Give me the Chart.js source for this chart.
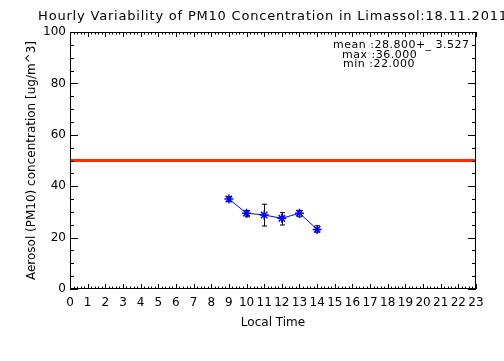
<!DOCTYPE html>
<html>
<head>
<meta charset="utf-8">
<script src="https://cdn.jsdelivr.net/npm/chart.js@4/dist/chart.umd.min.js"></script>
<style>
  html, body { margin: 0; padding: 0; background: #fff; }
  #wrap { width: 504px; height: 361px; }
</style>
</head>
<body>
<div id="wrap"><canvas id="pm10" width="504" height="361"></canvas></div>
<script>
// --- data ---
const hours = [9, 10, 11, 12, 13, 14];
const pm10 = [35.0, 29.5, 28.8, 27.5, 29.5, 23.2];
const errLow = [34.0, 28.1, 24.5, 24.9, 28.1, 22.1];
const errHigh = [35.9, 30.5, 33.0, 29.7, 30.5, 24.6];

const limitHours = [0, 23];
const limitValue = [50, 50];

const xTicks = [0, 23, 1];     // min, max, step
const yTicks = [0, 100, 20];

const titleText = 'Hourly Variability of PM10 Concentration in Limassol:18.11.2011';
const statsLines = ['mean :28.800+_ 3.527', 'max :36.000', 'min :22.000'];

const FONT = 'DejaVu Sans';

// draws the IDL-style frame with inward ticks + minor ticks
const frameTicks = {
    id: 'frameTicks',
    afterDatasetsDraw(chart) {
        const { ctx, chartArea: a, scales: { x, y } } = chart;
        ctx.save();
        ctx.strokeStyle = '#000';
        ctx.lineWidth = 1;
        ctx.strokeRect(a.left + 0.5, a.top + 0.5, a.right - a.left - 1, a.bottom - a.top - 1);
        ctx.beginPath();
        // x: minor every 0.2 h
        for (let i = 0; i <= (xTicks[1] - xTicks[0]) * 5; i++) {
            const v = xTicks[0] + i * 0.2;
            const px = Math.round(x.getPixelForValue(v)) + 0.5;
            const len = i % 5 === 0 ? 5 : 2.5;
            ctx.moveTo(px, a.bottom); ctx.lineTo(px, a.bottom - len);
            ctx.moveTo(px, a.top); ctx.lineTo(px, a.top + len);
        }
        // y: minor every 5
        for (let v = yTicks[0]; v <= yTicks[1]; v += 5) {
            const py = Math.round(y.getPixelForValue(v)) + 0.5;
            const len = v % yTicks[2] === 0 ? 8 : 4;
            ctx.moveTo(a.left, py); ctx.lineTo(a.left + len, py);
            ctx.moveTo(a.right, py); ctx.lineTo(a.right - len, py);
        }
        ctx.stroke();
        ctx.restore();
    }
};

// black error bars, drawn under the blue markers
const errorBars = {
    id: 'errorBars',
    beforeDatasetsDraw(chart) {
        const { ctx, scales: { x, y } } = chart;
        ctx.save();
        ctx.strokeStyle = '#000';
        ctx.lineWidth = 1;
        ctx.beginPath();
        hours.forEach((h, i) => {
            const px = Math.round(x.getPixelForValue(h)) + 0.5;
            const lo = y.getPixelForValue(errLow[i]);
            const hi = y.getPixelForValue(errHigh[i]);
            ctx.moveTo(px, lo); ctx.lineTo(px, hi);
            ctx.moveTo(px - 2.5, lo); ctx.lineTo(px + 2.5, lo);
            ctx.moveTo(px - 2.5, hi); ctx.lineTo(px + 2.5, hi);
        });
        ctx.stroke();
        ctx.restore();
    }
};

// title centred on the plot area, plus the stats box
const texts = {
    id: 'texts',
    afterDraw(chart) {
        const { ctx, chartArea: a } = chart;
        ctx.save();
        ctx.fillStyle = '#000';
        ctx.font = `13px "${FONT}"`;
        ctx.letterSpacing = '0.8px';
        ctx.textAlign = 'center';
        ctx.textBaseline = 'middle';
        ctx.fillText(titleText, (a.left + a.right) / 2, 17);

        ctx.font = `11px "${FONT}"`;
        ctx.letterSpacing = '0.5px';
        ctx.textAlign = 'left';
        const starts = [333, 342, 343];
        statsLines.forEach((s, i) => ctx.fillText(s, starts[i], 45 + i * 9.7));
        ctx.restore();
    }
};

new Chart(document.getElementById('pm10'), {
    type: 'line',
    data: {
        datasets: [
            {
                label: 'limit',
                data: limitHours.map((h, i) => ({ x: h, y: limitValue[i] })),
                borderColor: '#ff2a00',
                borderWidth: 3,
                pointRadius: 0
            },
            {
                label: 'PM10',
                data: hours.map((h, i) => ({ x: h, y: pm10[i] })),
                borderColor: '#0000ff',
                borderWidth: 1,
                pointStyle: 'star',
                pointRadius: 4.5,
                pointBorderColor: '#0000ff',
                pointBorderWidth: 1.5,
                tension: 0
            }
        ]
    },
    options: {
        responsive: false,
        animation: false,
        layout: { padding: { top: 32, right: 28, left: 0, bottom: 0 } },
        plugins: { legend: { display: false }, tooltip: { enabled: false } },
        scales: {
            x: {
                type: 'linear',
                min: xTicks[0], max: xTicks[1],
                grid: { display: false, drawTicks: false },
                border: { display: false },
                ticks: { stepSize: xTicks[2], color: '#000', padding: 7, maxRotation: 0, autoSkip: false,
                         font: { family: FONT, size: 12 } },
                title: { display: true, text: 'Local Time', color: '#000',
                         font: { family: FONT, size: 12 }, padding: { top: 0, bottom: 31 } },
                afterFit(scale) { scale.height = 72; }
            },
            y: {
                min: yTicks[0], max: yTicks[1],
                grid: { display: false, drawTicks: false },
                border: { display: false },
                ticks: { stepSize: yTicks[2], color: '#000', padding: 4,
                         font: { family: FONT, size: 12 } },
                title: { display: true, text: 'Aerosol (PM10) concentration [ug/m^3]', color: '#000',
                         font: { family: FONT, size: 12 }, padding: { top: 25, bottom: 0 } },
                afterFit(scale) { scale.width = 70; }
            }
        }
    },
    plugins: [errorBars, frameTicks, texts]
});
</script>
</body>
</html>
